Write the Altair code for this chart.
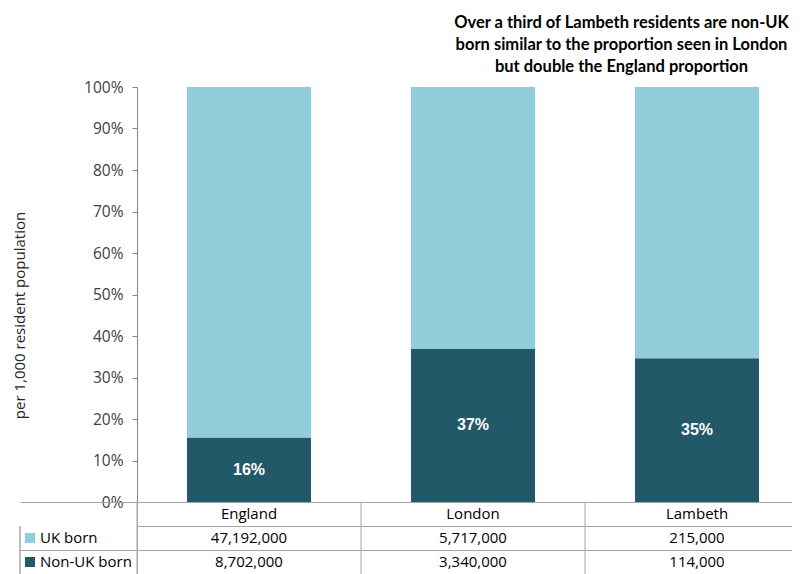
import altair as alt
import pandas as pd

# ---- data ----
regions = ["England", "London", "Lambeth"]
uk_born = [47192000, 5717000, 215000]
non_uk_born = [8702000, 3340000, 114000]
groups = ["Non-UK born", "UK born"]          # bottom -> top
group_colors = ["#215968", "#92CDDC"]
table_rows = ["header", "UK born", "Non-UK born"]
title_lines = [
    "Over a third of Lambeth residents are non-UK",
    "born similar to the proportion seen in London",
    "but double the England proportion",
]
y_title = "per 1,000 resident population"

rows = []
for r, u, n in zip(regions, uk_born, non_uk_born):
    rows.append({"region": r, "group": "Non-UK born", "count": n, "ord": 0})
    rows.append({"region": r, "group": "UK born", "count": u, "ord": 1})
df = pd.DataFrame(rows)

trows = []
for r, u, n in zip(regions, uk_born, non_uk_born):
    trows.append({"region": r, "row": "header", "label": r})
    trows.append({"region": r, "row": "UK born", "label": f"{u:,}"})
    trows.append({"region": r, "row": "Non-UK born", "label": f"{n:,}"})
tdf = pd.DataFrame(trows)
leg_df = pd.DataFrame({"row": groups[::-1], "group": groups[::-1]})
reg_df = pd.DataFrame({"region": regions})

W, H, TH = 655, 415, 72
STEP_RANGE = [0, 672]          # category band range (partly beyond the visible plot)
FONT = "Open Sans"
TITLE_FONT = "Lato"
AXIS_GREY = "#868686"
TABLE_GREY = "#A6A6A6"

color = alt.Color("group:N", scale=alt.Scale(domain=groups, range=group_colors), legend=None)

# ---- bar chart ----
x_bar = alt.X("region:N", sort=regions,
              scale=alt.Scale(range=STEP_RANGE, paddingInner=0.4464, paddingOuter=0.2232),
              axis=None)
y_axis = alt.Axis(format="%", values=[i / 10 for i in range(11)], title=y_title,
                  grid=False, domainColor=AXIS_GREY, tickColor=AXIS_GREY, tickSize=5,
                  labelPadding=9, labelFont=FONT, labelFontSize=15.5, labelColor="#404040",
                  titleFont=FONT, titleFontSize=15, titleFontWeight="normal", titleColor="#262626",
                  titleAngle=270, titleX=-118, titleY=228, titleAlign="center", titleBaseline="middle")
y_scale = alt.Scale(domain=[0, 1], nice=False)

bars = alt.Chart(df).mark_bar().encode(
    x=x_bar,
    y=alt.Y("count:Q", stack="normalize", scale=y_scale, axis=y_axis),
    color=color,
    order=alt.Order("ord:Q"),
)

labels = alt.Chart(df).transform_joinaggregate(
    total="sum(count)", groupby=["region"]
).transform_calculate(
    pct="datum.count / datum.total", mid="datum.count / datum.total / 2"
).transform_filter(
    "datum.group == 'Non-UK born'"
).mark_text(font="Liberation Sans", fontWeight="bold", fontSize=16, color="white").encode(
    x=x_bar,
    y=alt.Y("mid:Q", scale=y_scale, axis=y_axis),
    text=alt.Text("pct:Q", format=".0%"),
)

top = alt.layer(bars, labels).properties(
    width=W, height=H,
    title=alt.TitleParams(text=title_lines, font=TITLE_FONT, fontSize=16.5, fontWeight="bold",
                          color="#000000", lineHeight=22, anchor="middle", align="center",
                          frame="group", dx=157, offset=5),
)

# ---- data table ----
x_tbl_scale = alt.Scale(range=STEP_RANGE, paddingInner=0, paddingOuter=0)
x_tbl = alt.X("region:N", sort=regions, scale=x_tbl_scale, axis=None)
y_tbl = alt.Y("row:N", sort=table_rows, scale=alt.Scale(paddingInner=0, paddingOuter=0),
              axis=alt.Axis(title=None, labels=False, grid=True, tickBand="extent",
                            gridColor=TABLE_GREY, ticks=True, tickSize=117,
                            tickColor={"condition": {"test": "datum.value === 'header'",
                                                     "value": "transparent"},
                                       "value": TABLE_GREY},
                            domain=True, domainColor=TABLE_GREY))

cells = alt.Chart(tdf).mark_text(font=FONT, fontSize=15, color="#000000").encode(
    x=x_tbl, y=y_tbl, text="label:N")
col_lines = alt.Chart(reg_df).mark_rule(color=TABLE_GREY).encode(
    x=alt.X("region:N", sort=regions, scale=x_tbl_scale, axis=None, bandPosition=0),
    y=alt.value(0), y2=alt.value(TH))
squares = alt.Chart(leg_df).mark_point(shape="square", filled=True, size=100, opacity=1).encode(
    x=alt.value(-107), y=y_tbl, color=color)
row_labels = alt.Chart(leg_df).mark_text(align="left", font=FONT, fontSize=15, color="#000000").encode(
    x=alt.value(-97), y=y_tbl, text="row:N")
left_line = alt.Chart(leg_df).mark_rule(color=TABLE_GREY).encode(
    x=alt.value(-117), y=alt.value(TH / 3), y2=alt.value(TH))

table = alt.layer(cells, col_lines, squares, row_labels, left_line).properties(width=W, height=TH)

chart = alt.vconcat(top, table, spacing=0, bounds="flush").properties(
    padding={"left": 4, "top": 6, "right": 0, "bottom": 0}
).configure_view(stroke=None).configure_concat(spacing=0)

chart.save("out.html", embed_options={"renderer": "svg", "actions": False})
